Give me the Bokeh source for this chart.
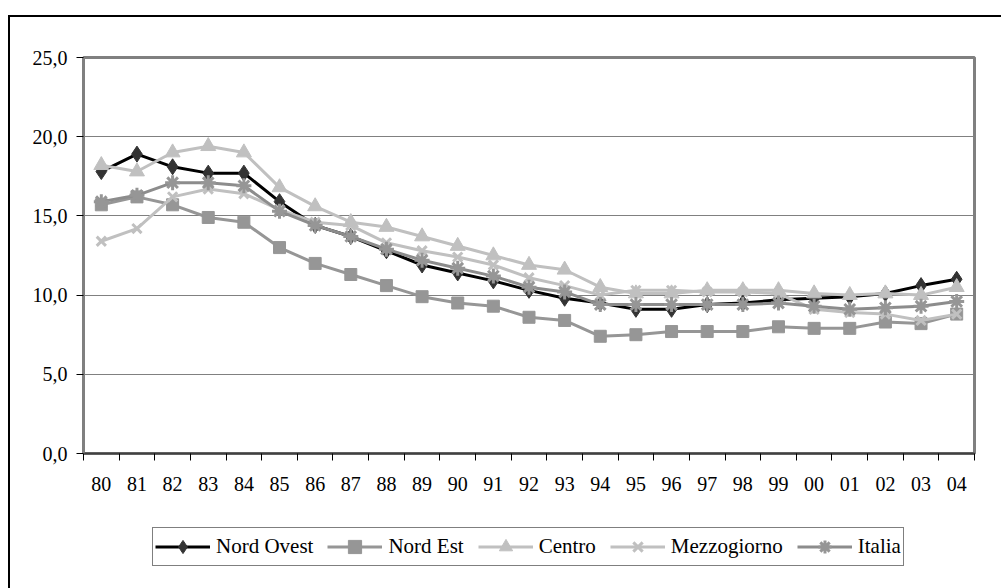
from bokeh.plotting import figure
from bokeh.layouts import column
from bokeh.models import Range1d, FixedTicker, Legend, LegendItem
from bokeh.embed import file_html
from bokeh.resources import INLINE

years = ["80", "81", "82", "83", "84", "85", "86", "87", "88", "89", "90", "91", "92",
         "93", "94", "95", "96", "97", "98", "99", "00", "01", "02", "03", "04"]
nord_ovest = [17.8, 18.9, 18.1, 17.7, 17.7, 15.9, 14.4, 13.7, 12.8, 11.9, 11.4, 10.9, 10.3,
              9.8, 9.5, 9.1, 9.1, 9.4, 9.5, 9.7, 9.8, 9.9, 10.1, 10.6, 11.0]
nord_est = [15.7, 16.2, 15.7, 14.9, 14.6, 13.0, 12.0, 11.3, 10.6, 9.9, 9.5, 9.3, 8.6,
            8.4, 7.4, 7.5, 7.7, 7.7, 7.7, 8.0, 7.9, 7.9, 8.3, 8.2, 8.8]
centro = [18.2, 17.8, 19.0, 19.4, 19.0, 16.8, 15.6, 14.6, 14.3, 13.7, 13.1, 12.5, 11.9,
          11.6, 10.5, 10.1, 10.1, 10.3, 10.3, 10.3, 10.1, 10.0, 10.1, 10.0, 10.5]
mezzogiorno = [13.4, 14.2, 16.2, 16.7, 16.4, 15.4, 14.6, 14.4, 13.3, 12.8, 12.4, 11.9, 11.1,
               10.6, 10.0, 10.3, 10.3, 10.2, 10.2, 10.1, 9.1, 8.9, 8.8, 8.4, 8.8]
italia = [15.9, 16.3, 17.1, 17.1, 16.9, 15.3, 14.4, 13.7, 12.9, 12.2, 11.7, 11.2, 10.5,
          10.2, 9.4, 9.4, 9.4, 9.4, 9.4, 9.5, 9.3, 9.1, 9.2, 9.3, 9.6]
series_names = ["Nord Ovest", "Nord Est", "Centro", "Mezzogiorno", "Italia"]
y_tick_values = [0, 5, 10, 15, 20, 25]
y_tick_labels = ["0,0", "5,0", "10,0", "15,0", "20,0", "25,0"]

FONT = "'Liberation Serif', 'Times New Roman', serif"
FS = "20px"

x = list(range(len(years)))

p = figure(width=991, height=493, output_backend="svg", toolbar_location=None,
           x_range=Range1d(-0.5, len(years) - 0.5), y_range=Range1d(0, 25),
           min_border_left=73, min_border_right=27, min_border_top=40,
           min_border_bottom=57)
p.background_fill_color = "white"
p.border_fill_color = "white"
p.outline_line_color = "#808080"
p.outline_line_width = 3

p.xgrid.visible = False
p.ygrid.ticker = FixedTicker(ticks=y_tick_values)
p.ygrid.grid_line_color = "#808080"
p.ygrid.grid_line_width = 1

# y axis
p.yaxis.ticker = FixedTicker(ticks=y_tick_values)
p.yaxis.major_label_overrides = {v: l for v, l in zip(y_tick_values, y_tick_labels)}
p.yaxis.axis_line_color = "#808080"
p.yaxis.axis_line_width = 2
p.yaxis.major_tick_line_color = "black"
p.yaxis.major_tick_out = 7
p.yaxis.major_tick_in = 0
p.yaxis.minor_tick_line_color = None
p.yaxis.major_label_standoff = 9
p.yaxis.major_label_text_font = FONT
p.yaxis.major_label_text_font_size = FS
p.yaxis.major_label_text_color = "black"

# x axis
p.xaxis.ticker = FixedTicker(ticks=x, minor_ticks=[i - 0.5 for i in range(len(years) + 1)])
p.xaxis.major_label_overrides = {i: y for i, y in zip(x, years)}
p.xaxis.axis_line_color = "#404040"
p.xaxis.axis_line_width = 2
p.xaxis.major_tick_line_color = None
p.xaxis.minor_tick_line_color = "black"
p.xaxis.minor_tick_out = 7
p.xaxis.minor_tick_in = 0
p.xaxis.major_label_standoff = 16
p.xaxis.major_label_text_font = FONT
p.xaxis.major_label_text_font_size = FS
p.xaxis.major_label_text_color = "black"

styles = [
    dict(data=nord_ovest, line="#000000", marker="diamond", mcolor="#333333", size=16, lw=1),
    dict(data=nord_est, line="#969696", marker="square", mcolor="#969696", size=12, lw=1),
    dict(data=centro, line="#c0c0c0", marker="triangle", mcolor="#c0c0c0", size=15, lw=1),
    dict(data=mezzogiorno, line="#c0c0c0", marker="x", mcolor="#c0c0c0", size=13, lw=3),
    dict(data=italia, line="#8c8c8c", marker="asterisk", mcolor="#969696", size=15, lw=3),
]

for st in styles:
    p.line(x, st["data"], line_color=st["line"], line_width=3)
    p.scatter(x, st["data"], marker=st["marker"], size=st["size"],
              fill_color=st["mcolor"], line_color=st["mcolor"], line_width=st["lw"])

# legend strip below the chart; its renderers carry the same series but lie
# outside this strip's visible range, so only the legend itself is seen
lf = figure(width=991, height=78, output_backend="svg", toolbar_location=None,
            x_range=Range1d(-0.5, len(years) - 0.5), y_range=Range1d(100, 101),
            x_axis_type=None, y_axis_type=None, min_border=0)
lf.outline_line_color = None
lf.xgrid.visible = False
lf.ygrid.visible = False
lf.background_fill_color = "white"
lf.border_fill_color = "white"

items = []
for name, st in zip(series_names, styles):
    r1 = lf.line(x, st["data"], line_color=st["line"], line_width=3)
    r2 = lf.scatter(x, st["data"], marker=st["marker"], size=st["size"],
                    fill_color=st["mcolor"], line_color=st["mcolor"], line_width=st["lw"])
    items.append(LegendItem(label=name, renderers=[r1, r2]))

legend = Legend(items=items, orientation="horizontal", location=(69, 22))
legend.label_text_font = FONT
legend.label_text_font_size = "21px"
legend.label_text_color = "black"
legend.glyph_width = 55
legend.glyph_height = 33
legend.label_standoff = 6
legend.spacing = 14
legend.padding = 2
legend.margin = 0
legend.border_line_color = "black"
legend.border_line_width = 1
legend.background_fill_color = "white"
legend.background_fill_alpha = 1
lf.add_layout(legend, "center")

layout = column(p, lf, spacing=0,
                styles={"margin-left": "8px", "margin-top": "15px",
                        "border-left": "2px solid black", "border-top": "2px solid black"})

open("out.html", "w").write(file_html(layout, INLINE))
